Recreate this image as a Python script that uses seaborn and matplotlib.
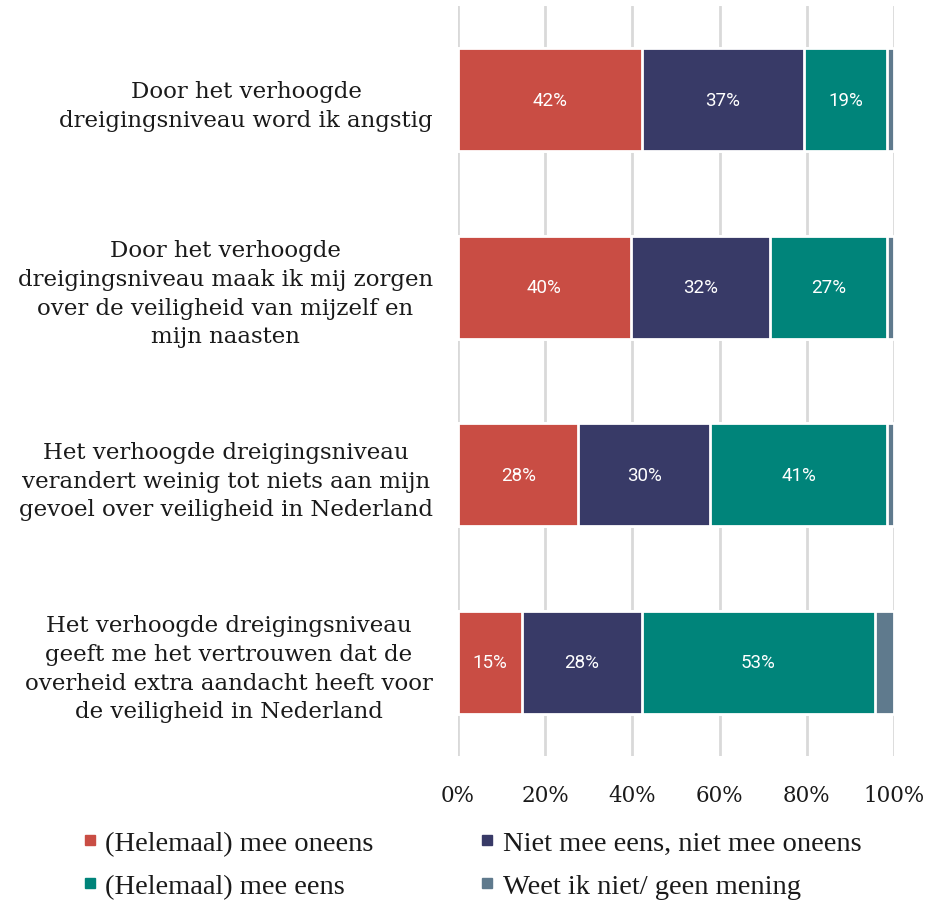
import matplotlib
matplotlib.use("Agg")
import matplotlib.pyplot as plt
import seaborn as sns
import pandas as pd
import numpy as np
from matplotlib.lines import Line2D

# categories (top to bottom)
statements = [
    "Door het verhoogde\ndreigingsniveau word ik angstig",
    "Door het verhoogde\ndreigingsniveau maak ik mij zorgen\nover de veiligheid van mijzelf en\nmijn naasten",
    "Het verhoogde dreigingsniveau\nverandert weinig tot niets aan mijn\ngevoel over veiligheid in Nederland",
    "Het verhoogde dreigingsniveau\ngeeft me het vertrouwen dat de\noverheid extra aandacht heeft voor\nde veiligheid in Nederland",
]
series = ["(Helemaal) mee oneens", "Niet mee eens, niet mee oneens",
          "(Helemaal) mee eens", "Weet ik niet/ geen mening"]
oneens = [42.1, 39.6, 27.6, 14.6]
neutraal = [37.2, 31.9, 30.2, 27.6]
eens = [19.1, 26.9, 40.7, 53.4]
weet_niet = [1.6, 1.6, 1.5, 4.4]
colors = ["#C94D44", "#383A67", "#00847A", "#5F7A8D"]
ticks = [0, 20, 40, 60, 80, 100]

sns.set_style("white")
plt.rcParams["font.family"] = ["DejaVu Serif"]
plt.rcParams["text.color"] = "#1a1a1a"
plt.rcParams["xtick.color"] = "#1a1a1a"
plt.rcParams["ytick.color"] = "#1a1a1a"

vals = np.array([oneens, neutraal, eens, weet_niet])
cum = vals.cumsum(axis=0)

fig = plt.figure(figsize=(9.29, 9.04), dpi=100)
ax = fig.add_axes([458 / 929, 1 - 757 / 904, (894 - 458) / 929, (757 - 7) / 904])

# draw cumulative bars from the longest to the shortest so they stack
for i in range(3, -1, -1):
    df = pd.DataFrame({"stelling": statements, "waarde": cum[i]})
    sns.barplot(data=df, x="waarde", y="stelling", color=colors[i], saturation=1,
                width=0.55, edgecolor="white", linewidth=2, ax=ax, zorder=2)

# value labels for the first three segments
for i in range(3):
    for j in range(4):
        mid = cum[i][j] - vals[i][j] / 2
        ax.text(mid, j, f"{vals[i][j]:.0f}%", ha="center", va="center",
                color="white", fontsize=13.5, family="Roboto", zorder=3)

ax.set_xlim(0, 100)
ax.set_xticks(ticks)
ax.set_xticklabels([f"{t}%" for t in ticks], fontsize=15.5)
ax.xaxis.grid(True, color="#d9d9d9", linewidth=2, zorder=0)
ax.set_axisbelow(True)
ax.set_xlabel("")
ax.set_ylabel("")
sns.despine(ax=ax, left=True, bottom=True)
ax.tick_params(axis="both", length=0)
ax.tick_params(axis="x", pad=20)
ax.tick_params(axis="y", pad=18, labelsize=16.5)
for t in ax.get_yticklabels():
    t.set_multialignment("center")
    t.set_linespacing(1.4)

# legend below, two columns
handles = [Line2D([], [], marker="s", linestyle="", color=c, markersize=7) for c in colors]
order = [0, 2, 1, 3]
fig.legend([handles[k] for k in order], [series[k] for k in order],
           loc="upper left", bbox_to_anchor=(81 / 929, 1 - 831 / 904), ncol=2, frameon=False,
           prop={"family": "Liberation Serif", "size": 20.5}, handlelength=0.6,
           handletextpad=0.25, columnspacing=3.7, labelspacing=0.6,
           borderpad=0, borderaxespad=0)

fig.savefig("out.png", dpi=100)
